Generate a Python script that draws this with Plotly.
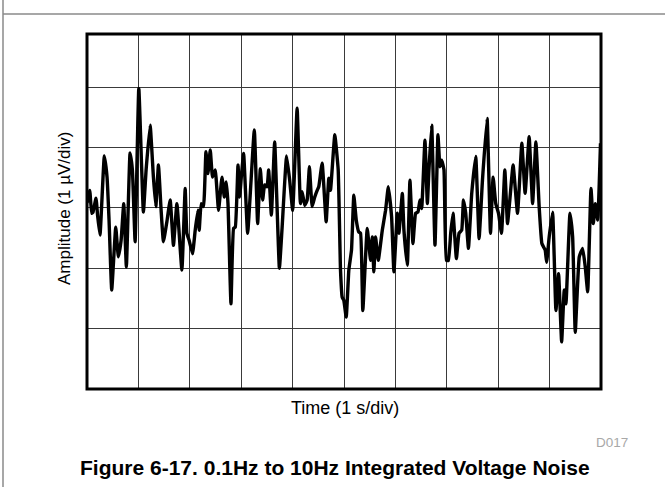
import plotly.graph_objects as go

# ---- data (time in s, amplitude in µV) ----
time_s = [
    0.00, 0.053, 0.092, 0.117, 0.175, 0.209, 0.253, 0.337, 0.390, 0.429,
    0.481, 0.559, 0.610, 0.663, 0.715, 0.766, 0.838, 0.883, 0.936, 1.008,
    1.097, 1.150, 1.228, 1.292, 1.339, 1.390, 1.442, 1.487, 1.554, 1.618,
    1.682, 1.749, 1.846, 1.910, 1.943, 1.988, 2.053, 2.105, 2.158, 2.183,
    2.222, 2.267, 2.314, 2.353, 2.398, 2.442, 2.495, 2.559, 2.626, 2.671,
    2.710, 2.743, 2.801, 2.852, 2.885, 2.938, 2.969, 3.002, 3.047, 3.125,
    3.255, 3.320, 3.372, 3.417, 3.456, 3.503, 3.534, 3.587, 3.651, 3.743,
    3.795, 3.883, 3.943, 4.002, 4.088, 4.152, 4.185, 4.236, 4.283, 4.327,
    4.380, 4.431, 4.478, 4.509, 4.575, 4.653, 4.704, 4.737, 4.821, 4.887,
    4.932, 4.965, 4.996, 5.043, 5.094, 5.146, 5.191, 5.238, 5.288, 5.322,
    5.366, 5.452, 5.517, 5.550, 5.581, 5.614, 5.667, 5.745, 5.809, 5.862,
    5.926, 5.971, 6.037, 6.068, 6.135, 6.166, 6.232, 6.283, 6.341, 6.394,
    6.439, 6.478, 6.511, 6.575, 6.622, 6.653, 6.706, 6.770, 6.828, 6.867,
    6.901, 6.945, 6.992, 7.031, 7.076, 7.121, 7.187, 7.238, 7.290, 7.324,
    7.368, 7.421, 7.485, 7.563, 7.628, 7.694, 7.784, 7.850, 7.901, 7.953,
    8.006, 8.064, 8.129, 8.181, 8.226, 8.290, 8.376, 8.460, 8.524, 8.602,
    8.669, 8.733, 8.797, 8.850, 8.914, 8.942, 8.992, 9.058, 9.123, 9.175,
    9.234, 9.285, 9.318, 9.396, 9.448, 9.499, 9.577, 9.643, 9.694, 9.741,
    9.805, 9.850, 9.889, 9.936, 9.990,
]
amplitude_uv = [
    0.08, 0.29, -0.09, -0.07, 0.16, -0.15, -0.45, 0.86, 0.51, -0.20,
    -1.36, -0.32, -0.81, -0.54, 0.07, -0.98, 0.91, 0.63, -0.56, 1.98,
    -0.07, 0.63, 1.37, 0.51, 0.02, 0.71, -0.04, -0.56, -0.23, 0.13,
    -0.62, 0.07, -1.03, 0.32, -0.42, -0.54, -0.76, -0.37, -0.04, -0.37,
    0.07, 0.02, 0.93, 0.57, 0.96, 0.51, 0.63, -0.04, 0.51, 0.18,
    0.43, 0.07, -1.59, -0.34, -0.32, 0.71, 0.18, 0.51, 0.90, -0.42,
    1.29, -0.26, 0.65, 0.13, 0.38, 0.35, 0.63, -0.12, 1.09, -1.00,
    -0.34, 0.86, 0.46, -0.04, 1.65, 0.07, 0.27, 0.04, 0.13, 0.68,
    0.02, 0.18, 0.29, 0.35, 0.74, -0.23, 0.49, 0.29, 1.21, 0.63,
    -1.03, -1.48, -1.53, -1.81, -1.03, -0.70, 0.21, -0.20, -0.40, -0.42,
    -1.70, -0.34, -0.87, -0.48, -1.06, -0.48, -0.87, -0.37, -0.04, 0.35,
    -0.15, -1.06, -0.09, -0.42, 0.24, -0.37, -0.95, 0.46, -0.59, -0.09,
    -0.07, 0.13, -0.01, 1.12, 0.07, 0.63, 1.37, -0.62, 1.21, 0.68,
    0.79, 0.63, -0.87, -0.87, -0.42, -0.09, -0.84, -0.42, -0.37, 0.13,
    -0.09, -0.67, 0.24, 0.85, -0.51, 0.46, 1.48, -0.42, 0.51, 0.07,
    -0.09, -0.42, 0.63, -0.26, 0.13, 0.71, -0.09, 1.07, 0.24, 1.18,
    0.07, 1.09, 0.02, -0.59, -0.70, -0.90, -0.48, -0.07, -1.70, -1.09,
    -2.22, -1.36, -1.59, -0.09, -0.48, -2.06, -0.81, -0.67, -0.98, -1.39,
    0.32, -0.26, 0.07, -0.20, 1.07,
]

x_range = [0, 10]
y_range = [-3.0, 2.88]

x_title = "Time (1 s/div)"
y_title = "Amplitude (1 µV/div)"
doc_id = "D017"
caption = "<b>Figure 6-17. 0.1Hz to 10Hz Integrated Voltage Noise</b>"

# ---- layout geometry ----
W, H = 665, 487
ML, MR, MT, MB = 87, 64, 34, 98
PW, PH = W - ML - MR, H - MT - MB


def px(x):
    return (x - ML) / PW


def py(y):
    return (H - MB - y) / PH


FONT = "Liberation Sans, Arial, sans-serif"

fig = go.Figure()
fig.add_trace(go.Scatter(
    x=time_s, y=amplitude_uv, mode="lines",
    line=dict(color="black", width=3.4, shape="spline", smoothing=0.35),
    hoverinfo="skip", showlegend=False,
))

axis_common = dict(
    showticklabels=False, ticks="", showgrid=True,
    gridcolor="#3a3a3a", gridwidth=1, zeroline=False, showline=False,
    fixedrange=True,
)
fig.update_xaxes(range=x_range, tick0=0, dtick=1, **axis_common)
fig.update_yaxes(range=y_range, tick0=-3, dtick=1, **axis_common)

shapes = [
    # plot frame
    dict(type="rect", xref="paper", yref="paper", x0=0, x1=1, y0=0, y1=1,
         line=dict(color="black", width=3), layer="above"),
    # outer page frame lines
    dict(type="line", xref="paper", yref="paper", x0=px(3), x1=px(W), y0=py(14), y1=py(14),
         line=dict(color="#8a8a8a", width=1.5)),
    dict(type="line", xref="paper", yref="paper", x0=px(3), x1=px(3), y0=py(0), y1=py(H),
         line=dict(color="#8a8a8a", width=1.5)),
]

annotations = [
    dict(text=x_title, xref="paper", yref="paper", x=px(345), y=py(408),
         xanchor="center", yanchor="middle", showarrow=False,
         font=dict(family=FONT, size=18, color="black")),
    dict(text=y_title, xref="paper", yref="paper", x=px(64), y=py(209),
         xanchor="center", yanchor="middle", showarrow=False, textangle=-90,
         font=dict(family=FONT, size=17, color="black")),
    dict(text=doc_id, xref="paper", yref="paper", x=px(630), y=py(442),
         xanchor="right", yanchor="middle", showarrow=False,
         font=dict(family=FONT, size=13.5, color="#a8a8a8")),
    dict(text=caption, xref="paper", yref="paper", x=px(335), y=py(467),
         xanchor="center", yanchor="middle", showarrow=False,
         font=dict(family=FONT, size=21, color="black")),
]

fig.update_layout(
    width=W, height=H,
    margin=dict(l=ML, r=MR, t=MT, b=MB, pad=0),
    paper_bgcolor="white", plot_bgcolor="white",
    shapes=shapes, annotations=annotations,
    showlegend=False,
)

fig.write_html(
    "out.html",
    config={"displayModeBar": False},
    post_script="document.body.style.margin='0';document.body.style.padding='0';",
)
